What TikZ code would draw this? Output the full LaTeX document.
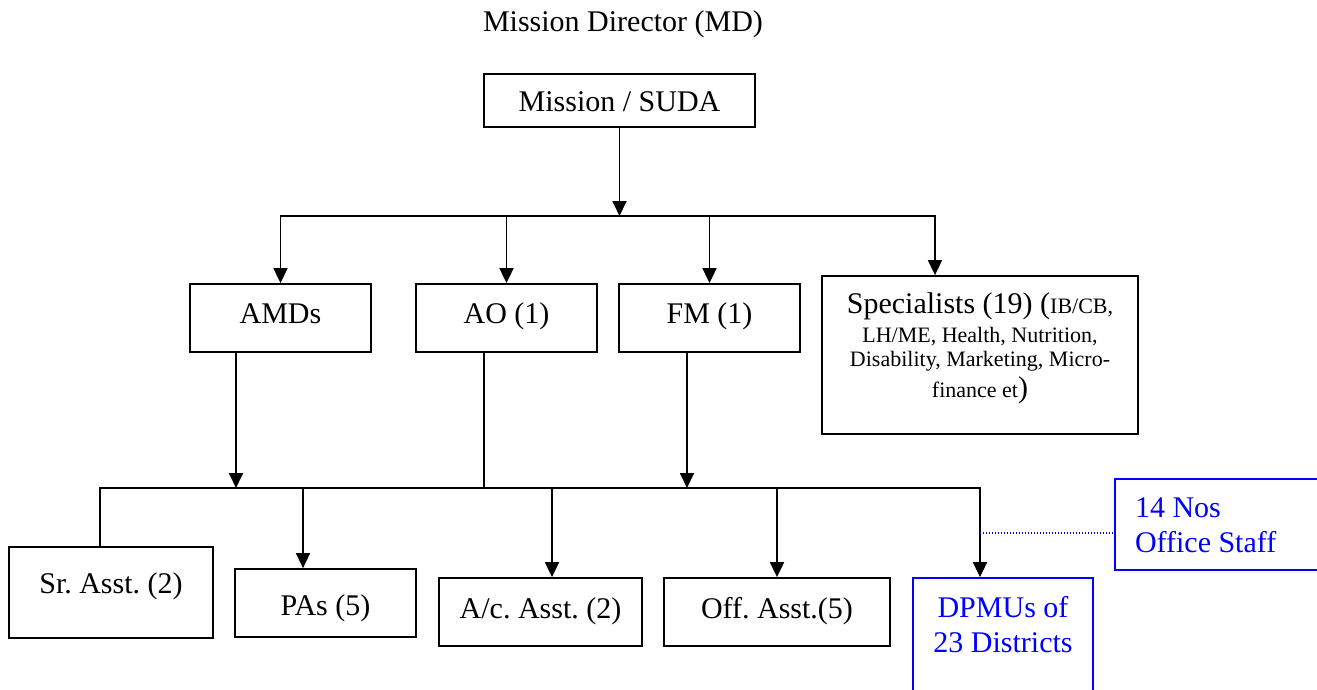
\documentclass[tikz,border=0pt]{standalone}
\usepackage{fontspec}
\setmainfont{Liberation Serif}
\usetikzlibrary{arrows.meta}
\definecolor{staffblue}{RGB}{0,0,255}
\frenchspacing
% type sizes
\newcommand{\bigsz}{\fontsize{30}{36}\selectfont}
\newcommand{\smallsz}{\fontsize{22}{26}\selectfont}
% lines stacked with exact baseline distances (first baseline is the reference)
\newcommand{\stackc}[1]{\vtop{\offinterlineskip\halign{\hfil##\hfil\cr#1\crcr}}}
\newcommand{\stackl}[1]{\vtop{\offinterlineskip\halign{##\hfil\cr#1\crcr}}}
\begin{document}
\begin{tikzpicture}[x=1pt,y=-1pt,
  box/.style={draw=black,line width=1.8pt,inner sep=0pt,font=\bigsz},
  bluebox/.style={box,draw=staffblue,text=staffblue},
  baseat/.style 2 args={text height=#1,text depth=#2},
  link/.style={line width=1.8pt},
  arr/.style={link,-{Triangle[width=14pt,length=15pt]}},
  staffline/.style={draw=staffblue,line width=1.3pt,dash pattern=on 1.3pt off 1.7pt}]

\useasboundingbox (0,0) rectangle (1317,690);
\clip (0,0) rectangle (1317,690);

% heading
\node[font=\bigsz,anchor=base,inner sep=0pt] (md) at (623,32) {Mission Director (MD)};

% top
\node[box,minimum width=271pt,minimum height=53pt,baseat={23pt}{0pt}] (suda) at (619.5,100.5) {Mission / SUDA};

% second level
\node[box,minimum width=181pt,minimum height=68pt,baseat={10pt}{0pt}] (amds) at (280.5,318) {AMDs};
\node[box,minimum width=181pt,minimum height=68pt,baseat={10pt}{0pt}] (ao) at (506.5,318) {AO (1)};
\node[box,minimum width=181pt,minimum height=68pt,baseat={10pt}{0pt}] (fm) at (709.5,318) {FM (1)};
\node[box,minimum width=316pt,minimum height=158pt,baseat={0pt}{84pt}] (spec) at (980,355)
  {\stackc{\smash{Specialists (19) ({\smallsz IB/CB,}}\cr
   \noalign{\vskip29pt}\smash{\smallsz LH/ME, Health, Nutrition,}\cr
   \noalign{\vskip24pt}\smash{\smallsz Disability, Marketing, Micro-}\cr
   \noalign{\vskip31pt}\smash{{\smallsz finance et})}}};

% office staff level
\node[box,minimum width=204pt,minimum height=91pt,baseat={1pt}{0pt}] (sr) at (111,592.5) {Sr. Asst. (2)};
\node[box,minimum width=181pt,minimum height=68pt,baseat={24pt}{0pt}] (pas) at (325.5,603) {PAs (5)};
\node[box,minimum width=203pt,minimum height=68pt,baseat={12pt}{0pt}] (acc) at (540.5,612) {A/c. Asst. (2)};
\node[box,minimum width=226pt,minimum height=68pt,baseat={12pt}{0pt}] (off) at (777,612) {Off. Asst.(5)};
\node[bluebox,minimum width=180pt,minimum height=142pt,baseat={0pt}{64pt}] (dpmu) at (1003,649)
  {\stackc{\smash{DPMUs of}\cr\noalign{\vskip35pt}\smash{23 Districts}}};
\node[bluebox,minimum width=225pt,minimum height=91pt,baseat={0pt}{15pt}] (staff) at (1227.5,524.5)
  {\makebox[185pt][l]{\stackl{\smash{14 Nos}\cr\noalign{\vskip35pt}\smash{Office Staff}}}};

% bus lines
\coordinate (bus1) at (0,216);
\coordinate (bus2) at (0,488);

% entry / exit points that are off the box centres
\coordinate (specin) at ([xshift=-45pt]spec.north);
\coordinate (amdsout) at ([xshift=-44.5pt]amds.south);
\coordinate (aoout) at ([xshift=-22.5pt]ao.south);
\coordinate (fmout) at ([xshift=-22.5pt]fm.south);
\coordinate (srin) at ([xshift=-11pt]sr.north);
\coordinate (pain) at ([xshift=-22.5pt]pas.north);
\coordinate (acin) at ([xshift=11.5pt]acc.north);
\coordinate (dpin) at ([xshift=-23pt]dpmu.north);
\coordinate (stin) at ([yshift=-8.5pt]staff.west);

% Mission / SUDA to second level
\draw[arr] (suda.south) -- (suda.south |- bus1);
\draw[arr] (suda.south |- bus1) -| (amds.north);
\draw[arr] (suda.south |- bus1) -| (specin);
\draw[arr] (ao.north |- bus1) -- (ao.north);
\draw[arr] (fm.north |- bus1) -- (fm.north);

% second level to office staff
\draw[arr] (amdsout) -- (amdsout |- bus2);
\draw[link] (aoout) -- (aoout |- bus2);
\draw[arr] (fmout) -- (fmout |- bus2);
\draw[link] (aoout |- bus2) -| (srin);
\draw[arr] (aoout |- bus2) -| (dpin);
\draw[arr] (pain |- bus2) -- (pain);
\draw[arr] (acin |- bus2) -- (acin);
\draw[arr] (off.north |- bus2) -- (off.north);

% note on the office staff
\draw[staffline] (dpin |- stin) -- (stin);
\end{tikzpicture}
\end{document}
